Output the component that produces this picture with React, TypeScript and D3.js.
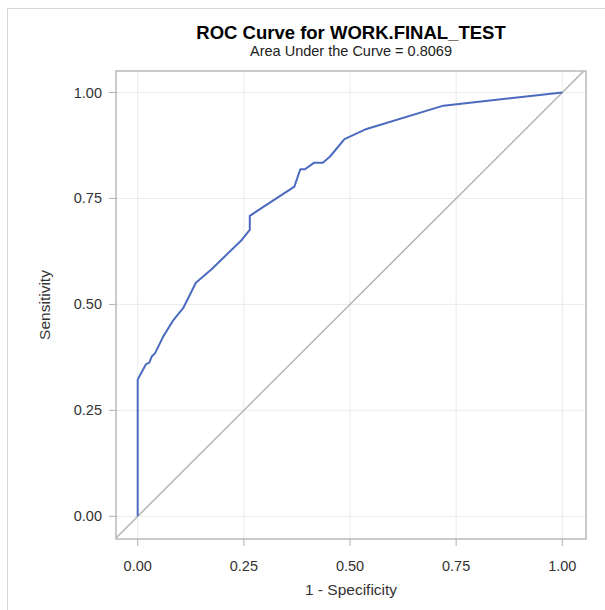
import React from "react";
import * as d3 from "d3";

const fpr = [0, 0, 0.0195, 0.027, 0.033, 0.041, 0.06, 0.084, 0.107, 0.137, 0.174, 0.245, 0.264, 0.264, 0.369, 0.383, 0.394, 0.415, 0.436, 0.453, 0.487, 0.539, 0.72, 1];
const tpr = [0, 0.323, 0.359, 0.362, 0.377, 0.385, 0.424, 0.463, 0.491, 0.551, 0.583, 0.652, 0.676, 0.709, 0.778, 0.819, 0.819, 0.834, 0.834, 0.849, 0.89, 0.914, 0.969, 1];
const xTicks = [0, 0.25, 0.5, 0.75, 1];
const yTicks = [0, 0.25, 0.5, 0.75, 1];
const title = "ROC Curve for WORK.FINAL_TEST";
const subtitle = "Area Under the Curve = 0.8069";
const xLabel = "1 - Specificity";
const yLabel = "Sensitivity";

export default function App() {
  const W = 605, H = 610;
  const frame = { left: 116, right: 586, top: 71, bottom: 539 };
  const x = d3.scaleLinear().domain([0, 1]).range([137.7, 562.3]);
  const y = d3.scaleLinear().domain([0, 1]).range([516.3, 92.5]);
  const dom = [x.invert(frame.left), x.invert(frame.right)];
  const pts: [number, number][] = fpr.map((v, i) => [v, tpr[i]]);
  const line = d3.line<[number, number]>().x(d => x(d[0])).y(d => y(d[1]));
  const cx = (frame.left + frame.right) / 2;
  const font = "'Liberation Sans', Arial, sans-serif";
  return (
    <svg width={W} height={H} style={{ position: "absolute", left: 0, top: 0 }} fontFamily={font}>
      <rect x={0} y={0} width={W} height={H} fill="#fff" />
      <rect x={7.5} y={8.5} width={W + 10} height={H + 10} fill="none" stroke="#d8d8d8" strokeWidth={1} />
      <text x={cx} y={39} textAnchor="middle" fontSize={18.5} fontWeight="bold" fill="#000">{title}</text>
      <text x={cx} y={56} textAnchor="middle" fontSize={14.5} fill="#222">{subtitle}</text>
      <defs>
        <clipPath id="clip">
          <rect x={frame.left} y={frame.top} width={frame.right - frame.left} height={frame.bottom - frame.top} />
        </clipPath>
      </defs>
      {xTicks.map(t => (
        <line key={"gx" + t} x1={x(t)} x2={x(t)} y1={frame.top} y2={frame.bottom} stroke="#ebebeb" strokeWidth={1} />
      ))}
      {yTicks.map(t => (
        <line key={"gy" + t} x1={frame.left} x2={frame.right} y1={y(t)} y2={y(t)} stroke="#ebebeb" strokeWidth={1} />
      ))}
      <g clipPath="url(#clip)">
        <line x1={x(dom[0])} y1={y(dom[0])} x2={x(dom[1])} y2={y(dom[1])} stroke="#b4b4b4" strokeWidth={1.5} />
        <path d={line(pts) || ""} fill="none" stroke="#4b6bbf" strokeWidth={2} strokeLinejoin="round" />
      </g>
      <rect x={frame.left} y={frame.top} width={frame.right - frame.left} height={frame.bottom - frame.top} fill="none" stroke="#b9b9b9" strokeWidth={1.5} />
      {xTicks.map(t => (
        <g key={"tx" + t}>
          <line x1={x(t)} x2={x(t)} y1={frame.bottom} y2={frame.bottom + 7} stroke="#b0b0b0" strokeWidth={1} />
          <text x={x(t)} y={571} textAnchor="middle" fontSize={14.5} fill="#333">{d3.format(".2f")(t)}</text>
        </g>
      ))}
      {yTicks.map(t => (
        <g key={"ty" + t}>
          <line x1={frame.left - 7} x2={frame.left} y1={y(t)} y2={y(t)} stroke="#b0b0b0" strokeWidth={1} />
          <text x={102} y={y(t) + 5} textAnchor="end" fontSize={14.5} fill="#333">{d3.format(".2f")(t)}</text>
        </g>
      ))}
      <text x={cx} y={595} textAnchor="middle" fontSize={15.5} fill="#333">{xLabel}</text>
      <text transform={`translate(50,${(frame.top + frame.bottom) / 2}) rotate(-90)`} textAnchor="middle" fontSize={15.5} fill="#333">{yLabel}</text>
    </svg>
  );
}
